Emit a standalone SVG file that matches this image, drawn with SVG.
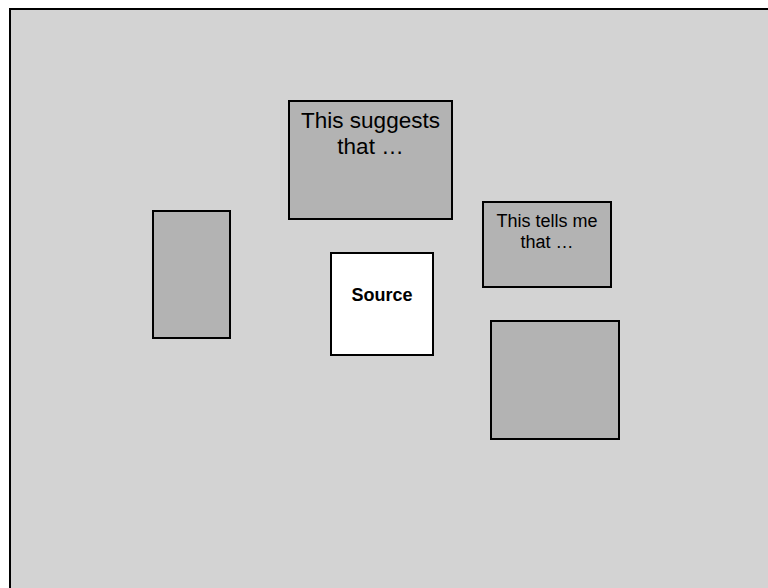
<svg xmlns="http://www.w3.org/2000/svg" width="768" height="588" viewBox="0 0 768 588">
<style>
.bg{fill:#d3d3d3;stroke:#000;stroke-width:2}
.box{fill:#b3b3b3;stroke:#000;stroke-width:2}
.src{fill:#fff;stroke:#000;stroke-width:2}
text{font-family:"Liberation Sans",Arial,sans-serif;fill:#000;text-anchor:middle}
</style>
<rect width="768" height="588" fill="#fff"/>
<rect class="bg" x="10" y="9" width="770" height="600"/>
<g id="suggests">
<rect class="box" x="289" y="101" width="163" height="118"/>
<text x="370.5" y="128" font-size="22.5">This suggests</text>
<text x="370.5" y="154" font-size="22.5">that …</text>
</g>
<g id="tells">
<rect class="box" x="483" y="202" width="128" height="85"/>
<text x="547" y="227" font-size="18">This tells me</text>
<text x="547" y="248" font-size="18">that …</text>
</g>
<g id="source">
<rect class="src" x="331" y="253" width="102" height="102"/>
<text x="382" y="301" font-size="18" font-weight="bold">Source</text>
</g>
<g id="left">
<rect class="box" x="153" y="211" width="77" height="127"/>
</g>
<g id="bottomright">
<rect class="box" x="491" y="321" width="128" height="118"/>
</g>
<g id="connectors"></g>
</svg>
